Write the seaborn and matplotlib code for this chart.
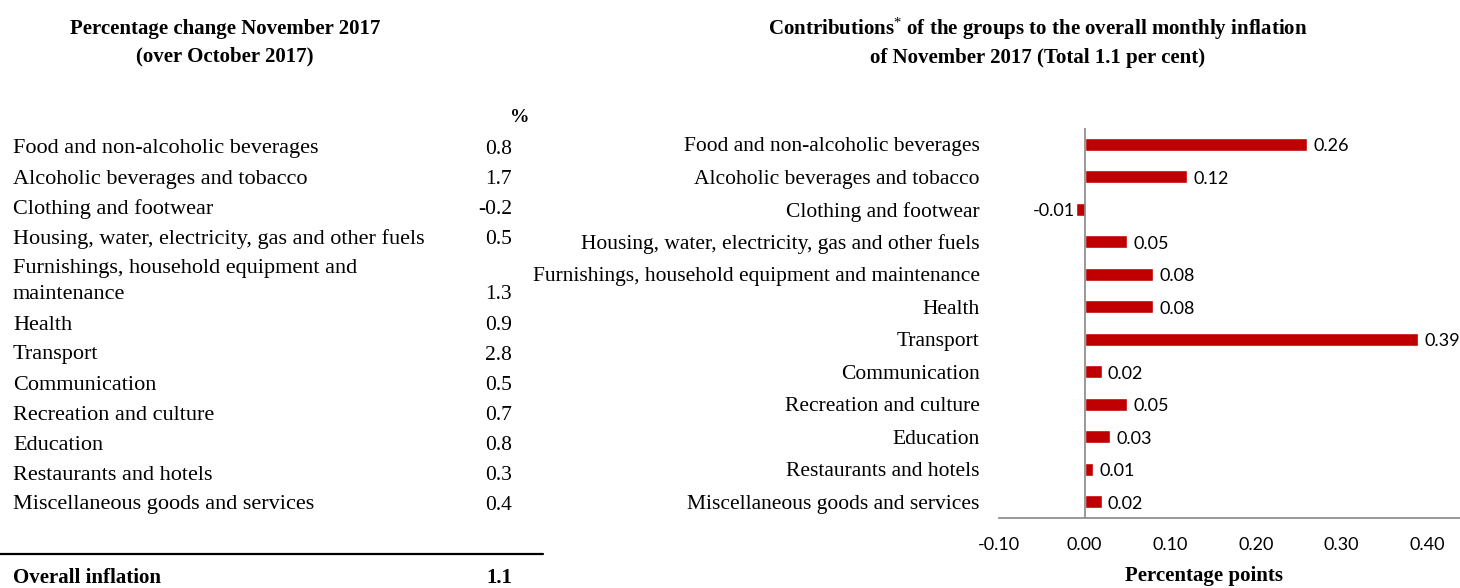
import matplotlib
matplotlib.use("Agg")
import matplotlib.pyplot as plt
import seaborn as sns
import pandas as pd
from matplotlib.lines import Line2D

sns.set_style("white")
plt.rcParams['font.family'] = ['Liberation Serif', 'DejaVu Serif']
plt.rcParams['mathtext.fontset'] = 'custom'
plt.rcParams['mathtext.rm'] = 'Liberation Serif'
plt.rcParams['mathtext.it'] = 'Liberation Serif'
plt.rcParams['text.color'] = 'black'
plt.rcParams['xtick.color'] = 'black'
plt.rcParams['ytick.color'] = 'black'

# ---- data ----
table_groups = ["Food and non-alcoholic beverages", "Alcoholic beverages and tobacco",
                "Clothing and footwear", "Housing, water, electricity, gas and other fuels",
                "Furnishings, household equipment and\nmaintenance", "Health", "Transport",
                "Communication", "Recreation and culture", "Education",
                "Restaurants and hotels", "Miscellaneous goods and services"]
pct_change = [0.8, 1.7, -0.2, 0.5, 1.3, 0.9, 2.8, 0.5, 0.7, 0.8, 0.3, 0.4]
overall_inflation = 1.1

groups = ["Food and non-alcoholic beverages", "Alcoholic beverages and tobacco",
          "Clothing and footwear", "Housing, water, electricity, gas and other fuels",
          "Furnishings, household equipment and maintenance", "Health", "Transport",
          "Communication", "Recreation and culture", "Education",
          "Restaurants and hotels", "Miscellaneous goods and services"]
contributions = [0.26, 0.12, -0.01, 0.05, 0.08, 0.08, 0.39, 0.02, 0.05, 0.03, 0.01, 0.02]
x_ticks = [-0.10, 0.00, 0.10, 0.20, 0.30, 0.40]

W, H = 1460, 588
fig = plt.figure(figsize=(W / 100, H / 100), dpi=100)

def fx(px):
    return px / W

def fy(py):
    return 1 - py / H

# ---- left panel: table ----
fig.text(fx(225), fy(29), "Percentage change November 2017", ha='center', va='center',
         fontsize=15, fontweight='bold')
fig.text(fx(225), fy(56), "(over October 2017)", ha='center', va='center',
         fontsize=15, fontweight='bold')
fig.text(fx(520), fy(118), "%", ha='center', va='center', fontsize=14, fontweight='bold')

row_y = [149, 179, 209, 239, 269, 325, 355, 385, 415, 445, 475, 505]
for name, val, y in zip(table_groups, pct_change, row_y):
    lines = name.split("\n")
    for k, ln in enumerate(lines):
        fig.text(fx(13), fy(y + 26 * k), ln, ha='left', va='center', fontsize=16)
    vy = y + 26 * (len(lines) - 1)
    fig.text(fx(512), fy(vy), f"{val:.1f}", ha='right', va='center', fontsize=15.5)

fig.add_artist(Line2D([0, fx(543)], [fy(554), fy(554)], color='black', lw=1.6,
                      transform=fig.transFigure))
fig.text(fx(13), fy(578), "Overall inflation", ha='left', va='center',
         fontsize=15, fontweight='bold')
fig.text(fx(512), fy(578), f"{overall_inflation:.1f}", ha='right', va='center',
         fontsize=15, fontweight='bold')

# ---- right panel: bar chart ----
fig.text(fx(1038), fy(29), r"Contributions$^{*}$ of the groups to the overall monthly inflation",
         ha='center', va='center', fontsize=15, fontweight='bold')
fig.text(fx(1038), fy(58), "of November 2017 (Total 1.1 per cent)",
         ha='center', va='center', fontsize=15, fontweight='bold')

ax = fig.add_axes([fx(999), fy(518), fx(1460) - fx(999), (518 - 128) / H])
df = pd.DataFrame({"group": groups, "value": contributions})
sns.barplot(data=df, y="group", x="value", orient='h', color='#C00000',
            width=0.4, ax=ax, saturation=1)
ax.set_xlim(-0.10, 0.4386)
ax.set_ylim(11.5, -0.5)
ax.axvline(0, color='#868686', lw=1.2, zorder=3)
for s in ['top', 'right', 'left']:
    ax.spines[s].set_visible(False)
ax.spines['bottom'].set_color('#868686')
ax.spines['bottom'].set_linewidth(1.2)
ax.set_xticks(x_ticks)
ax.set_xticklabels([f"{t:.2f}" for t in x_ticks], fontfamily='Lato', fontsize=13)
ax.tick_params(axis='x', direction='out', length=5, width=1.2, color='#868686', pad=9,
               labelcolor='black')
ax.tick_params(axis='y', length=0, pad=14, labelsize=15.5, labelcolor='black')
ax.set_xlabel("")
ax.set_ylabel("")

for i, v in enumerate(contributions):
    if v >= 0:
        ax.annotate(f"{v:.2f}", (v, i), xytext=(4.5, -1.5), textcoords='offset points',
                    ha='left', va='center', fontfamily='Lato', fontsize=13,
                    annotation_clip=False)
    else:
        ax.annotate(f"{v:.2f}", (v, i), xytext=(-1, -1.5), textcoords='offset points',
                    ha='right', va='center', fontfamily='Lato', fontsize=13)

fig.text(fx(1204), fy(576), "Percentage points", ha='center', va='center',
         fontsize=15, fontweight='bold')

fig.savefig("out.png", dpi=100)
